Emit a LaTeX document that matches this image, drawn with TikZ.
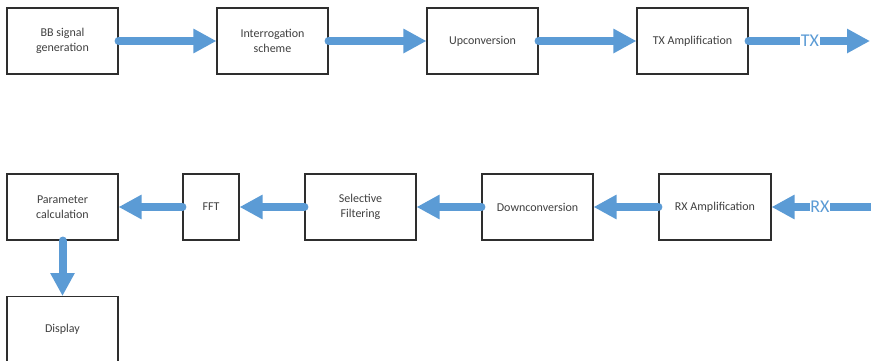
\documentclass[tikz,border=0pt]{standalone}
\usepackage{fontspec}
\setmainfont{Carlito}
\usetikzlibrary{arrows.meta}
\definecolor{flowblue}{HTML}{5B9BD5}
\definecolor{boxline}{HTML}{2E2E2E}
\definecolor{txtgray}{HTML}{404040}
\begin{document}
\begin{tikzpicture}[x=1pt,y=-1pt,
  blk/.style={draw=boxline,line width=1.1pt,fill=white,inner sep=0pt,align=center,
    text=txtgray,font=\fontsize{12}{14.5}\selectfont},
  flow/.style={draw=flowblue,line width=8pt,line cap=round,
    -{Triangle[length=23pt,width=23pt]}},
  sig/.style={text=flowblue,fill=white,inner sep=0.5pt,font=\fontsize{18}{20}\selectfont}]
\clip (0,0) rectangle (871,360);
\path[use as bounding box] (0,0) rectangle (871,360);
% top row
\node[blk,minimum width=111pt,minimum height=66pt] (bb) at (62.5,41) {BB signal\\generation};
\node[blk,minimum width=111pt,minimum height=66pt] (ir) at (272.5,41) {Interrogation\\scheme};
\node[blk,minimum width=111pt,minimum height=66pt] (up) at (482.5,41) {Upconversion};
\node[blk,minimum width=111pt,minimum height=66pt] (tx) at (692.5,41) {TX Amplification};
\coordinate (txend) at (870,41);
% bottom row
\node[blk,minimum width=111pt,minimum height=66pt] (pc) at (62.5,207) {Parameter\\calculation};
\node[blk,minimum width=56pt,minimum height=66pt] (fft) at (211,207) {FFT};
\node[blk,minimum width=111pt,minimum height=66pt] (sf) at (360.5,207) {Selective\\Filtering};
\node[blk,minimum width=111pt,minimum height=66pt] (dc) at (537.5,207) {Downconversion};
\node[blk,minimum width=112pt,minimum height=66pt] (rx) at (715,207) {RX Amplification};
\coordinate (rxstart) at (875,207);
\node[blk,minimum width=111pt,minimum height=80pt,anchor=north] (disp) at (62.5,296) {};
\node[text=txtgray,font=\fontsize{12}{14.5}\selectfont] (displbl) at (62.5,329) {Display};
% flows
\draw[flow] (bb.east) -- (ir.west);
\draw[flow] (ir.east) -- (up.west);
\draw[flow] (up.east) -- (tx.west);
\draw[flow] (tx.east) -- (txend);
\draw[flow,line cap=butt] (rxstart) -- (rx.east);
\draw[flow] (rx.west) -- (dc.east);
\draw[flow] (dc.west) -- (sf.east);
\draw[flow] (sf.west) -- (fft.east);
\draw[flow] (fft.west) -- (pc.east);
\draw[flow] (pc.south) -- (disp.north);
\node[sig] (txl) at (810,41) {TX};
\node[sig] (rxl) at (820,207) {RX};
\end{tikzpicture}
\end{document}
